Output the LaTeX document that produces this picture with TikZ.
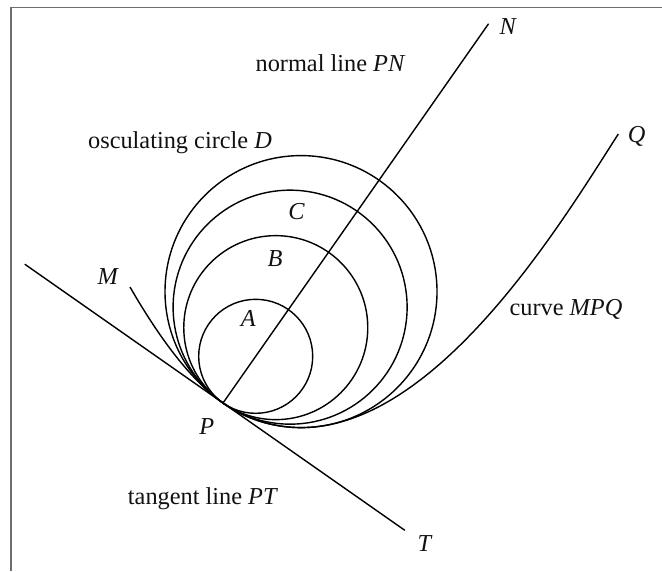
\documentclass[tikz,border=0pt]{standalone}
\usepackage{fontspec}
\setmainfont{Liberation Serif}
\usepackage{tikz}
\usetikzlibrary{calc}
\usepackage{xcolor}
\definecolor{ink}{HTML}{111111}
\definecolor{rule}{HTML}{6E6E6E}
\newcommand{\nm}[1]{\textit{#1}}

\begin{document}
\begin{tikzpicture}[x=0.025cm, y=-0.025cm, line width=1pt,
  every node/.style={inner sep=0pt, text=ink, font=\fontsize{17.3}{20.8}\selectfont}]
\useasboundingbox (0,0) rectangle (662,571);
% 0. thin grey rule along the top and the left edge
\draw[rule, line width=0.9pt] (11,571) |- (662,7.3);
% 1. the point of contact and the free ends of the lines and the curve
\coordinate (P) at (223,403);
\coordinate (Tstart) at ($(P)+(215:242)$);
\coordinate (Tend) at ($(P)+(35:222)$);
\coordinate (Nend) at ($(P)+(-55:463)$);
\coordinate (Mend) at (130,287);
\coordinate (Qend) at (618.3,134);
\coordinate (Dlow) at (301,427.6);
% 2. tangent line and normal line through P
\draw (Tstart) -- (Tend);
\draw (P) -- (Nend);
% 3. circles A, B, C, D, all touching the tangent at P; centres on the normal
\draw ($(P)+(-55:57)$) circle[radius=57];
\draw ($(P)+(-55:92)$) circle[radius=92];
\draw ($(P)+(-55:117)$) circle[radius=117];
\draw ($(P)+(-55:136)$) circle[radius=136];
% 4. curve MPQ; near P it follows circle D (same curvature)
\draw (Mend) .. controls +(60:40) and +(215:47.4) .. (P)
  .. controls +(35:27.9) and +(180:27.9) .. (Dlow)
  .. controls +(0:137.8) and +(122.7:100) .. (Qend);
% 5. captions
\node[anchor=base] (normal) at (330.5,71.7) {normal line \nm{PN}};
\node[anchor=base] (osc) at (180,148.3) {osculating circle \nm{D}};
\node[anchor=base] (curve) at (566,315) {curve \nm{MPQ}};
\node[anchor=base] (tangent) at (203,504) {tangent line \nm{PT}};
% 6. point letters
\node (labN) at (508.3,26.7) {\nm{N}};
\node (labQ) at (636.7,136.7) {\nm{Q}};
\node (labT) at (425,543.3) {\nm{T}};
\node (labM) at (108.3,276.7) {\nm{M}};
\node (labP) at (206.7,426.7) {\nm{P}};
\node (labA) at (248.3,318.3) {\nm{A}};
\node (labB) at (275,258.3) {\nm{B}};
\node (labC) at (296.7,211.7) {\nm{C}};
\end{tikzpicture}
\end{document}
